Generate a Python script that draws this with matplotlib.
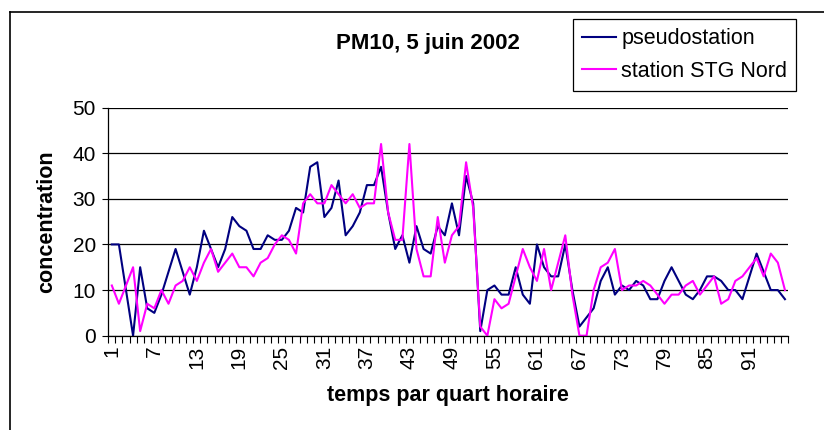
# PM10 quarter-hour concentrations, 5 June 2002
# pseudostation vs station STG Nord

import matplotlib
matplotlib.use("Agg")
import matplotlib.pyplot as plt
from matplotlib.lines import Line2D
import numpy as np

plt.rcParams['font.family'] = ['Liberation Sans', 'DejaVu Sans']

# -------------------------------------------- Data --------------------------------------------
# one value per quarter hour (96 per day)
pseudostation = [20, 20, 10, 0, 15, 6, 5, 9, 14, 19, 14, 9, 15, 23, 19, 15,
                 19, 26, 24, 23, 19, 19, 22, 21, 21, 23, 28, 27, 37, 38, 26, 28,
                 34, 22, 24, 27, 33, 33, 37, 27, 19, 22, 16, 24, 19, 18, 24, 22,
                 29, 22, 35, 29, 1, 10, 11, 9, 9, 15, 9, 7, 20, 15, 13, 13,
                 20, 10, 2, 4, 6, 12, 15, 9, 11, 10, 12, 11, 8, 8, 12, 15,
                 12, 9, 8, 10, 13, 13, 12, 10, 10, 8, 13, 18, 14, 10, 10, 8]
stg_nord = [11, 7, 11, 15, 1, 7, 6, 10, 7, 11, 12, 15, 12, 16, 19, 14,
            16, 18, 15, 15, 13, 16, 17, 20, 22, 21, 18, 29, 31, 29, 29, 33,
            31, 29, 31, 28, 29, 29, 42, 27, 21, 21, 42, 19, 13, 13, 26, 16,
            22, 24, 38, 28, 2, 0, 8, 6, 7, 13, 19, 15, 12, 19, 10, 16,
            22, 9, 0, 0, 10, 15, 16, 19, 10, 11, 11, 12, 11, 9, 7, 9,
            9, 11, 12, 9, 11, 13, 7, 8, 12, 13, 15, 17, 13, 18, 16, 10]
series_labels = ['pseudostation', 'station STG Nord']
y_ticks = [0, 10, 20, 30, 40, 50]
x_label_step = 6

quarters = np.arange(1, len(pseudostation) + 1)

# -------------------------------------------- Figure --------------------------------------------
fig = plt.figure(figsize=(8.24, 4.30), dpi=100)
ax = fig.add_axes([0.1314, 0.2193, 0.8255, 0.5307])

ax.plot(quarters, pseudostation, color='#000080', lw=1.5, label=series_labels[0])
ax.plot(quarters, stg_nord, color='#FF00FF', lw=1.5, label=series_labels[1])

# excel style category axis: labels on categories, ticks between them
ax.set_xlim(0.5, len(quarters) + 0.5)
ax.set_xticks(quarters[::x_label_step])
ax.set_xticklabels([str(q) for q in quarters[::x_label_step]], rotation=90, fontsize=15)
ax.set_xticks(np.arange(0.5, len(quarters) + 1), minor=True)
ax.tick_params(axis='x', which='major', length=0, pad=7)
ax.tick_params(axis='x', which='minor', length=5, width=0.8, direction='out')

ax.set_ylim(0, 50)
ax.set_yticks(y_ticks)
ax.tick_params(axis='y', length=4, width=0.8, labelsize=15, pad=5)
ax.yaxis.grid(True, color='black', lw=0.9)
ax.set_axisbelow(True)

for side in ['top', 'right']:
    ax.spines[side].set_visible(False)
for side in ['left', 'bottom']:
    ax.spines[side].set_linewidth(0.9)

# Titles and labels
fig.text(0.519, 1 - 43 / 430, 'PM10, 5 juin 2002', ha='center', va='center',
         fontsize=16, fontweight='bold')
fig.text(47 / 824, 1 - 222 / 430, 'concentration', ha='center', va='center',
         rotation=90, fontsize=15.5, fontweight='bold')
fig.text(448 / 824, 1 - 396 / 430, 'temps par quart horaire', ha='center', va='center',
         fontsize=15.5, fontweight='bold')

# Legend box at the top right
leg = fig.legend(loc='upper left', bbox_to_anchor=(0.6954, 0.956), borderaxespad=0,
                 fontsize=15.5, handlelength=1.58, handletextpad=0.23, labelspacing=0.53,
                 borderpad=0.43, fancybox=False, framealpha=1, edgecolor='black')
leg.get_frame().set_linewidth(0.9)

# Chart area border (top and left visible in the crop)
fig.add_artist(Line2D([10 / 824, 1], [1 - 12 / 430] * 2, color='black', lw=1.2))
fig.add_artist(Line2D([10 / 824] * 2, [0, 1 - 12 / 430], color='black', lw=1.2))

plt.savefig('out.png', dpi=100)
